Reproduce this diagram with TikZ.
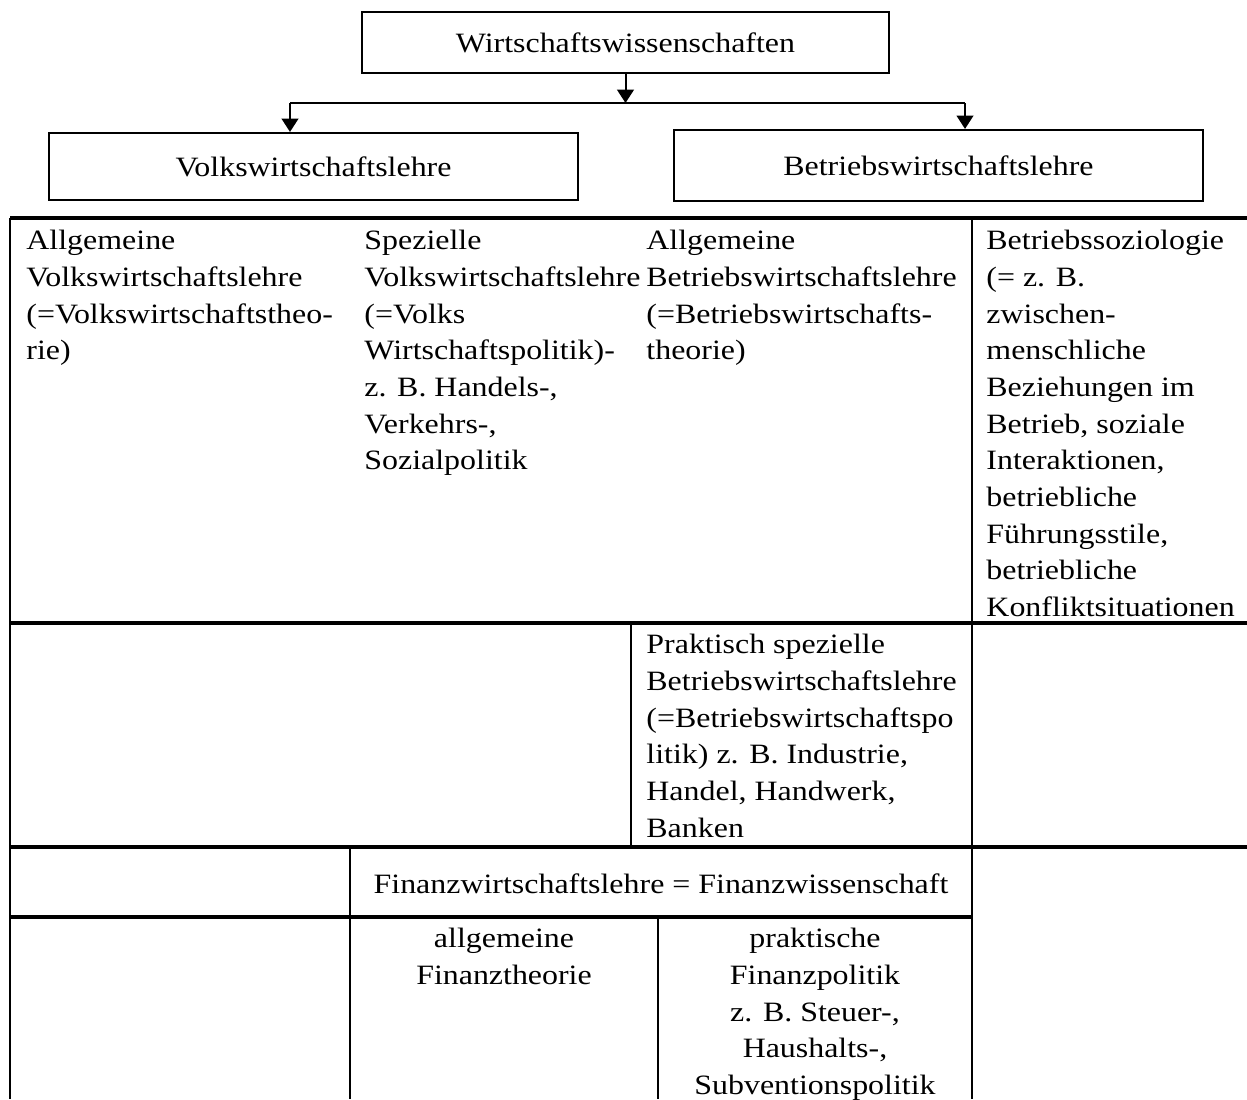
\documentclass[tikz,border=0pt]{standalone}
\usepackage{fontspec}
\setmainfont{Liberation Serif}[FakeStretch=1.14]
\usetikzlibrary{arrows.meta, positioning}

\begin{document}
\begin{tikzpicture}[>={Triangle[length=6pt, width=7.5pt]}, x=0.45pt, y=-0.45pt,
    font=\fontsize{12.6}{16.5}\selectfont,
    box/.style={draw, line width=0.9pt, inner sep=0pt},
    cell/.style={anchor=north west, align=left, inner sep=0pt, execute at begin node=\strut},
    mid/.style={anchor=north, align=center, inner sep=0pt, execute at begin node=\strut},
    hline/.style={line width=1.4pt},
    vline/.style={line width=0.8pt}]
  \useasboundingbox (0,0) rectangle (1247,1099);

  % boxes on top
  \node[box, minimum width=237.2pt, minimum height=27.5pt] (wiwi) at (625.5,42.5) {Wirtschaftswissenschaften};
  \node[box, minimum width=238pt, minimum height=30.2pt] (vwl) at (313.5,166.5) {Volkswirtschaftslehre};
  \node[box, minimum width=238pt, minimum height=32pt] (bwl) at (938.5,165.5) {Betriebswirtschaftslehre};

  \coordinate (barL) at (290,103);
  \coordinate (barR) at (965,103);
  \draw[line width=0.9pt] (barL) -- (barR);
  \draw[->, line width=0.9pt] (wiwi.south) -- (wiwi.south |- barL);
  \draw[->, line width=0.9pt] (barL) -- (barL |- vwl.north);
  \draw[->, line width=0.9pt] (barR) -- (barR |- bwl.north);

  % table
  \draw[hline] (10,218) -- (1247,218);
  \draw[hline] (10,623) -- (1247,623);
  \draw[hline] (10,847) -- (1247,847);
  \draw[hline] (10,917) -- (972,917);
  \draw[vline] (10,218) -- (10,1099);
  \draw[vline] (972,218) -- (972,1099);
  \draw[vline] (631,623) -- (631,847);
  \draw[vline] (350,847) -- (350,1099);
  \draw[vline] (658,917) -- (658,1099);

  \node[cell] (avwl) at (26,230) {Allgemeine\\Volkswirtschaftslehre\\(=Volkswirtschaftstheo-\\rie)};
  \node[cell] (svwl) at (364,230) {Spezielle\\Volkswirtschaftslehre\\(=Volks\\Wirtschaftspolitik)-\\z. B. Handels-,\\Verkehrs-,\\Sozialpolitik};
  \node[cell] (abwl) at (646,230) {Allgemeine\\Betriebswirtschaftslehre\\(=Betriebswirtschafts-\\theorie)};
  \node[cell] (soz) at (986,230) {Betriebssoziologie\\(= z. B.\\zwischen-\\menschliche\\Beziehungen im\\Betrieb, soziale\\Interaktionen,\\betriebliche\\Führungsstile,\\betriebliche\\Konfliktsituationen};
  \node[cell] (sbwl) at (646,634) {Praktisch spezielle\\Betriebswirtschaftslehre\\(=Betriebswirtschaftspo\\litik) z. B. Industrie,\\Handel, Handwerk,\\Banken};
  \node[anchor=base, inner sep=0pt] (fin) at (661,893) {Finanzwirtschaftslehre = Finanzwissenschaft};
  \node[mid] (finth) at (504,928) {allgemeine\\Finanztheorie};
  \node[mid] (finpol) at (815,928) {praktische\\Finanzpolitik\\z. B. Steuer-,\\Haushalts-,\\Subventionspolitik};
\end{tikzpicture}
\end{document}
